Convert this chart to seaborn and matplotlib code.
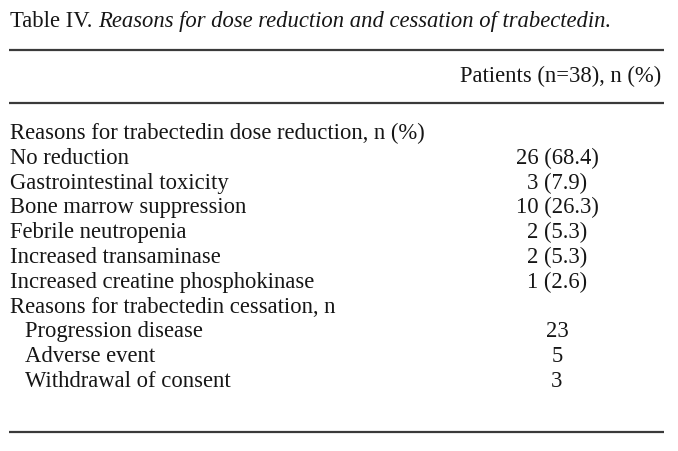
import matplotlib
matplotlib.use("Agg")
import matplotlib.pyplot as plt
import seaborn as sns

# table content
title_plain = "Table IV. "
title_italic = "Reasons for dose reduction and cessation of trabectedin."
col_header = "Patients (n=38), n (%)"
row_labels = [
    "Reasons for trabectedin dose reduction, n (%)",
    "No reduction",
    "Gastrointestinal toxicity",
    "Bone marrow suppression",
    "Febrile neutropenia",
    "Increased transaminase",
    "Increased creatine phosphokinase",
    "Reasons for trabectedin cessation, n",
    "Progression disease",
    "Adverse event",
    "Withdrawal of consent",
]
row_values = ["", "26 (68.4)", "3 (7.9)", "10 (26.3)", "2 (5.3)", "2 (5.3)",
              "1 (2.6)", "", "23", "5", "3"]
indented = [False] * 8 + [True] * 3

sns.set_theme(style="white")
plt.rcParams["font.family"] = ["Liberation Serif", "DejaVu Serif"]

fig = plt.figure(figsize=(6.78, 4.51), dpi=100)
ax = fig.add_axes([0, 0, 1, 1])
ax.set_xlim(0, 678)
ax.set_ylim(451, 0)
ax.axis("off")

fs = 16.3
ink = "#161616"

# title: plain part then italic part
t = ax.text(10, 27, title_plain, fontsize=fs, va="baseline", ha="left", color=ink)
fig.canvas.draw()
bb = t.get_window_extent()
x_end = ax.transData.inverted().transform((bb.x1, bb.y0))[0]
ax.text(x_end, 27, title_italic, fontsize=fs, va="baseline", ha="left",
        style="italic", color=ink)

# horizontal rules
for y in (50, 103, 432):
    ax.plot([9, 664], [y, y], color="#3a3a3a", lw=1.6, solid_capstyle="butt")

ax.text(661, 82, col_header, fontsize=fs, va="baseline", ha="right", color=ink)

y0, step = 139, 24.8
for i, (lab, val, ind) in enumerate(zip(row_labels, row_values, indented)):
    y = y0 + i * step
    ax.text(25 if ind else 10, y, lab, fontsize=fs, va="baseline", ha="left", color=ink)
    if val:
        ax.text(557, y, val, fontsize=fs, va="baseline", ha="center", color=ink)

fig.savefig("out.png", dpi=100, facecolor="white")
